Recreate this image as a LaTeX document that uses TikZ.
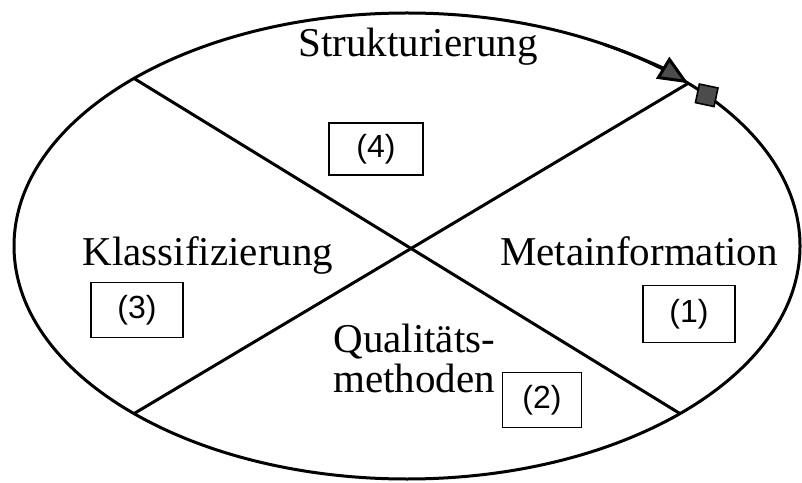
\documentclass[tikz,border=0pt]{standalone}
\usepackage{fontspec}
\setmainfont{Liberation Serif}
\setsansfont{Liberation Sans}
\usetikzlibrary{arrows.meta}

\begin{document}
\begin{tikzpicture}[
  x=0.5pt, y=0.5pt,
  lbl/.style={font=\fontsize{20.5}{20}\selectfont, inner sep=0pt},
  numbox/.style={
    rectangle, draw, line width=0.9pt,
    inner sep=0pt, font=\sffamily\fontsize{16}{18}\selectfont
  },
  cut/.style={line width=1.5pt},
  arr/.style={line width=1.5pt, -{Triangle[length=15pt, width=12.5pt, fill=black!70]}}
]
\useasboundingbox (0,0) rectangle (802,482);

% the cycle
\coordinate (c) at (407,236);
\draw[line width=1.5pt] (c) ellipse[x radius=393, y radius=233];

% end points of the two cuts
\coordinate (nw) at ([shift={(407,236)}]134:393 and 233);
\coordinate (se) at ([shift={(407,236)}]-46:393 and 233);
\coordinate (sw) at ([shift={(407,236)}]-134:393 and 233);
\coordinate (ne) at ([shift={(407,236)}]44.3:393 and 233);

\draw[cut] (nw) -- (se);
\draw[cut] (sw) -- (ne);

% direction of the cycle
\draw[arr] ([shift={(407,236)}]60:393 and 233) arc[start angle=60, end angle=44.3, x radius=393, y radius=233];
\node[rectangle, draw, line width=0.8pt, fill=black!70, minimum size=9.5pt,
  inner sep=0pt, rotate=-12] (mark) at ([shift={(407,236)}]40.3:393 and 233) {};

% quadrant labels
\node[lbl, anchor=base] (struk) at (418,425) {Strukturierung};
\node[lbl, anchor=base] (klass) at (208,216) {Klassifizierung};
\node[lbl, anchor=base] (meta) at (639,216) {Metainformation};
\node[lbl, anchor=base west, align=left] (qual) at (333,90) {Qualitäts-\\methoden};

% numbers
\node[numbox, minimum width=47pt, minimum height=26pt] (n4) at (376,333) {(4)};
\node[numbox, minimum width=46pt, minimum height=27.5pt] (n3) at (137,172) {(3)};
\node[numbox, minimum width=46pt, minimum height=28.5pt] (n1) at (689,168) {(1)};
\node[numbox, minimum width=39.5pt, minimum height=27.5pt] (n2) at (542,82) {(2)};

\end{tikzpicture}
\end{document}
